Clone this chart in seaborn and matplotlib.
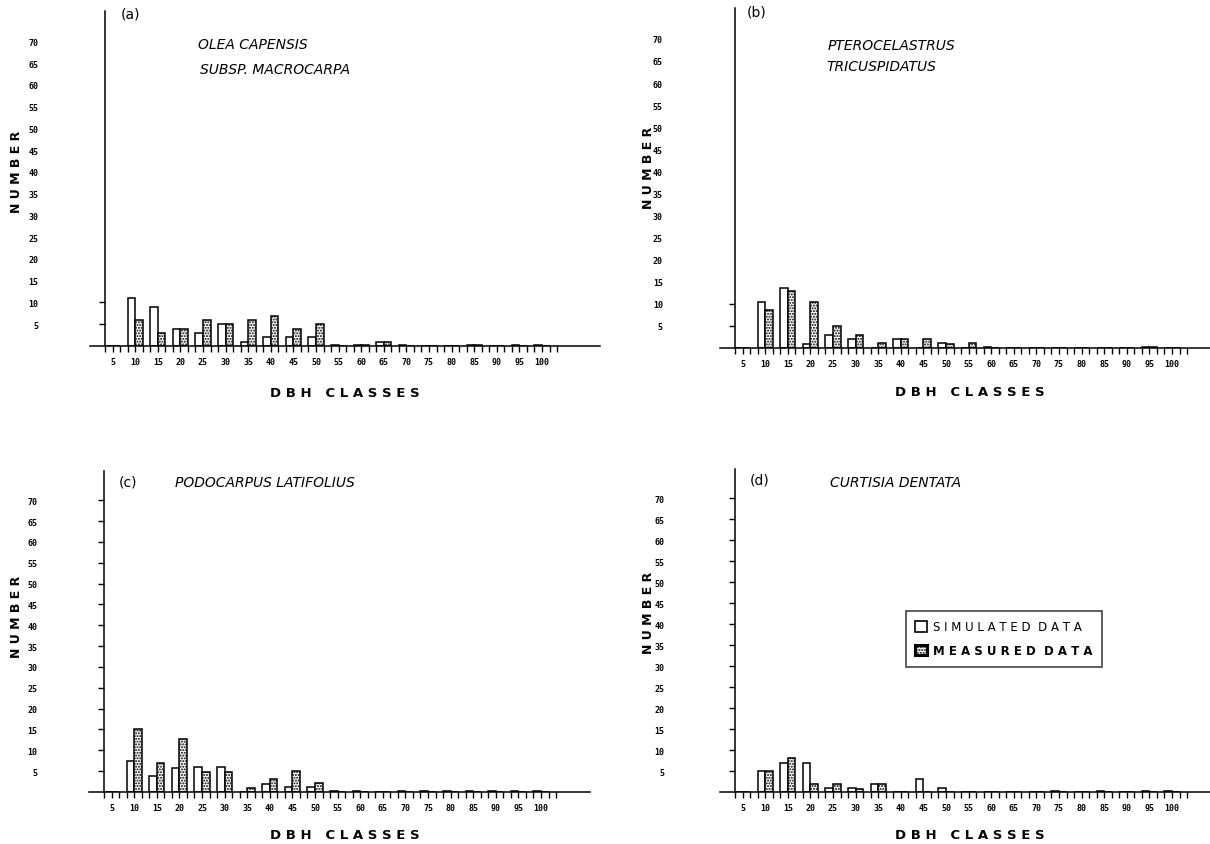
import numpy as np
import pandas as pd
import matplotlib
matplotlib.use("Agg")
import matplotlib.pyplot as plt
import seaborn as sns
from matplotlib.patches import Patch

sns.set_style("white")
plt.rcParams['font.family'] = ['DejaVu Sans']
plt.rcParams['hatch.linewidth'] = 1.0
plt.rcParams['text.color'] = 'black'
plt.rcParams['xtick.color'] = 'black'
plt.rcParams['ytick.color'] = 'black'
plt.rcParams['axes.edgecolor'] = 'black'

# DBH classes (cm) along the x axis
dbh_classes = ['5', '10', '15', '20', '25', '30', '35', '40', '45', '50',
               '55', '60', '65', '70', '75', '80', '85', '90', '95', '100']
y_ticks = [5, 10, 15, 20, 25, 30, 35, 40, 45, 50, 55, 60, 65, 70]

# (a) Olea capensis subsp. macrocarpa
olea_sim = [0, 11, 9, 4, 3, 5, 1, 2, 2, 2, 0.2, 0.2, 1, 0.3, 0.1, 0.1, 0.3, 0.1, 0.2, 0.2]
olea_meas = [0, 6, 3, 4, 6, 5, 6, 7, 4, 5, 0, 0.2, 1, 0, 0, 0, 0.3, 0, 0, 0]
# (b) Pterocelastrus tricuspidatus
ptero_sim = [0, 10.5, 13.7, 1, 3, 2, 0, 2, 0, 1.2, 0, 0.2, 0.1, 0.1, 0.1, 0.1, 0.1, 0.1, 0.2, 0.1]
ptero_meas = [0, 8.5, 12.8, 10.5, 5, 3, 1.2, 2, 2, 1, 1.2, 0, 0, 0, 0, 0, 0, 0, 0.2, 0]
# (c) Podocarpus latifolius
podo_sim = [0, 7.5, 3.8, 5.8, 6, 6, 0, 2, 1.1, 1.1, 0.2, 0.2, 0.1, 0.2, 0.2, 0.2, 0.2, 0.2, 0.2, 0.2]
podo_meas = [0, 15, 7, 12.8, 4.8, 4.8, 1, 3, 5.1, 2.1, 0, 0, 0, 0, 0, 0, 0, 0, 0, 0]
# (d) Curtisia dentata
curt_sim = [0, 5, 7, 7, 1, 1, 2, 0, 3, 1, 0.1, 0.1, 0.1, 0.1, 0.2, 0.1, 0.2, 0.1, 0.2, 0.2]
curt_meas = [0, 5, 8, 2, 2, 0.8, 2, 0, 0, 0, 0, 0, 0, 0, 0, 0, 0, 0, 0, 0]

W, H = 1210, 845
fig = plt.figure(figsize=(W / 100, H / 100), dpi=100)
PX_CLASS = 22.6  # pixels per DBH class


def px(x, y):
    return x / W, 1 - y / H


def panel(sim, meas, box, all_yticks, ypad):
    left, top, right, bottom = box
    ax = fig.add_axes([left / W, 1 - bottom / H, (right - left) / W, (bottom - top) / H])
    df = pd.DataFrame({
        'dbh': dbh_classes * 2,
        'series': ['Simulated'] * len(sim) + ['Measured'] * len(meas),
        'number': sim + meas,
    })
    sns.barplot(data=df, x='dbh', y='number', hue='series', order=dbh_classes,
                hue_order=['Simulated', 'Measured'],
                palette={'Simulated': 'white', 'Measured': 'white'},
                width=2 / 3, gap=0, dodge=True, saturation=1, errorbar=None,
                edgecolor='black', linewidth=1.1, legend=False, ax=ax)
    for bar in ax.containers[1]:
        bar.set_hatch('......')

    ax.set_xlim(-1, -1 + (right - left) / PX_CLASS)
    ax.set_ylim(0, 77)
    for s in ['top', 'right']:
        ax.spines[s].set_visible(False)
    ax.spines['left'].set_position(('data', -1 / 3))
    ax.spines['left'].set_linewidth(1.1)
    ax.spines['bottom'].set_linewidth(1.1)

    # one small tick per bar slot, label under each class
    pos, labs = [], []
    for k in range(-1, 60):
        pos.append(k / 3)
        labs.append(dbh_classes[k // 3] if (k >= 0 and k % 3 == 0) else '')
    ax.set_xticks(pos)
    ax.set_xticklabels(labs, fontsize=6, family='DejaVu Sans Mono', fontweight='bold')
    ax.tick_params(axis='x', direction='out', length=4, width=1, pad=4, bottom=True)

    ax.yaxis.remove_overlapping_locs = False
    ax.set_yticks(y_ticks)
    ax.set_yticklabels([str(t) for t in y_ticks], fontsize=6,
                       family='DejaVu Sans Mono', fontweight='bold')
    ax.tick_params(axis='y', which='major', length=0, pad=ypad, left=True)
    ax.set_yticks(y_ticks if all_yticks else [5, 10], minor=True)
    ax.tick_params(axis='y', which='minor', direction='out', length=4, width=1, left=True)
    ax.set_xlabel('')
    ax.set_ylabel('')
    return ax


panel(olea_sim, olea_meas, (90, 12, 600, 347), False, 48)
panel(ptero_sim, ptero_meas, (720, 9, 1210, 349), False, 52)
panel(podo_sim, podo_meas, (89, 472, 590, 793), True, 48)
ax_d = panel(curt_sim, curt_meas, (720, 470, 1210, 793), True, 51)

# panel letters
for lab, (x, y) in [('(a)', (131, 14)), ('(b)', (757, 12)), ('(c)', (128, 482)), ('(d)', (760, 481))]:
    fig.text(*px(x, y), lab, fontsize=10, ha='center', va='center')

# species names
title_kw = dict(fontsize=10, style='italic', ha='left', va='center')
fig.text(*px(198, 45), 'OLEA CAPENSIS', **title_kw)
fig.text(*px(200, 70), 'SUBSP. MACROCARPA', **title_kw)
fig.text(*px(828, 46), 'PTEROCELASTRUS', **title_kw)
fig.text(*px(826, 67), 'TRICUSPIDATUS', **title_kw)
fig.text(*px(175, 483), 'PODOCARPUS LATIFOLIUS', **title_kw)
fig.text(*px(830, 483), 'CURTISIA DENTATA', **title_kw)

# axis titles
for x, y in [(17, 172), (648, 168), (17, 617), (648, 613)]:
    fig.text(*px(x, y), 'N U M B E R', rotation=90, fontsize=9, fontweight='bold',
             ha='center', va='center')
for x, y in [(345, 394), (970, 393), (345, 836), (970, 836)]:
    fig.text(*px(x, y), 'D B H   C L A S S E S', fontsize=9.5, fontweight='bold',
             ha='center', va='center')

# legend
handles = [Patch(facecolor='white', edgecolor='black', linewidth=1.2),
           Patch(facecolor='white', edgecolor='black', linewidth=2.2, hatch='......')]
leg = fig.legend(handles, ['S I M U L A T E D  D A T A', 'M E A S U R E D  D A T A'],
                 loc='upper left', bbox_to_anchor=px(906, 612), frameon=True,
                 fancybox=False, edgecolor='black', fontsize=8.5,
                 handlelength=1.0, handleheight=1.0, handletextpad=0.5,
                 labelspacing=0.9, borderpad=0.8, borderaxespad=0)
leg.get_frame().set_linewidth(1.1)
leg.get_texts()[1].set_fontweight('bold')

fig.savefig('out.png', dpi=100, facecolor='white')
